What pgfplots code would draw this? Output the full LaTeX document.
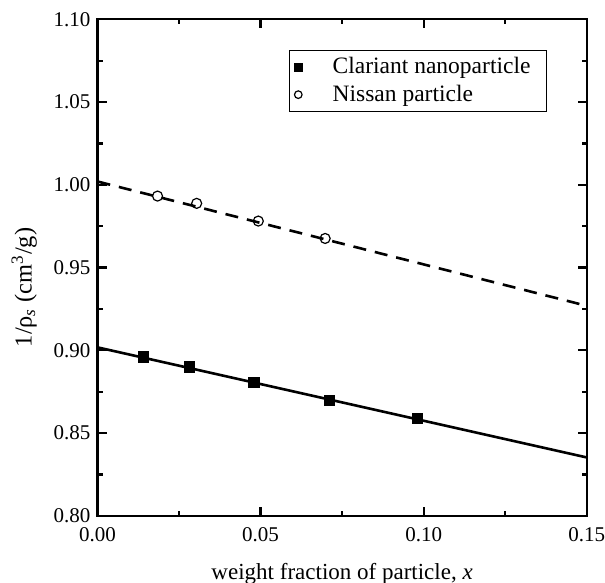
\documentclass[border=0pt]{standalone}
\usepackage{fontspec}
\setmainfont{Liberation Serif}
\usepackage{pgfplots}
\pgfplotsset{compat=1.18}

\begin{document}
\begin{tikzpicture}
\begin{axis}[
  scale only axis,
  width=244.5pt, height=248.2pt,
  xmin=0, xmax=0.15, ymin=0.80, ymax=1.10,
  xtick={0,0.05,0.10,0.15},
  ytick={0.80,0.85,0.90,0.95,1.00,1.05,1.10},
  minor x tick num=1, minor y tick num=1,
  tick pos=both, tick align=inside,
  major tick length=4.5pt, minor tick length=2.5pt,
  axis line style={line width=1.1pt},
  every tick/.style={line width=1.1pt, black},
  /pgf/number format/assume math mode=true,
  xticklabel style={font=\fontsize{10.5}{12.6}\selectfont, yshift=-2.5pt,
    /pgf/number format/.cd, fixed, fixed zerofill, precision=2},
  yticklabel style={font=\fontsize{10.5}{12.6}\selectfont,
    /pgf/number format/.cd, fixed, fixed zerofill, precision=2},
  scaled ticks=false,
  xlabel={weight fraction of particle, \textit{x}},
  ylabel={1/ρ\textsubscript{\textit{s}} (cm\textsuperscript{3}/g)},
  xlabel style={font=\fontsize{11.5}{13.8}\selectfont,
    at={(axis description cs:0.5,-0.1275)}, anchor=base},
  ylabel style={font=\fontsize{12.2}{14.6}\selectfont,
    at={(axis description cs:-0.15,0.46)}, anchor=center},
  legend style={at={(axis description cs:0.919,0.938)}, anchor=north east,
    draw=black, line width=0.6pt, font=\fontsize{11.75}{14.1}\selectfont,
    inner xsep=6pt, inner ysep=1.5pt, row sep=0pt},
  legend cell align=left,
  legend image code/.code={%
    \draw[#1, overlay, mark size=1.9pt] plot[only marks] coordinates {(0cm,0cm)};
    \path[draw=none] (1.5pt,0pt) rectangle (15.2pt,0pt);},
]
% measured points
\addplot[only marks, mark=square*, mark size=2.6pt, black]
  coordinates {(0.0141,0.8961) (0.0281,0.8899) (0.0480,0.8806) (0.0711,0.8697) (0.0981,0.8590)};
\addlegendentry{Clariant nanoparticle}
\addplot[only marks, mark=o, mark size=2.5pt, black, mark options={line width=0.6pt}]
  coordinates {(0.0184,0.9932) (0.0304,0.9888) (0.0493,0.9781) (0.0698,0.9676)};
\addlegendentry{Nissan particle}
% linear fits
\addplot[forget plot, black, line width=1.3pt]
  coordinates {(0,0.9018) (0.15,0.8353)};
\addplot[forget plot, black, line width=1.3pt, dash pattern=on 6.5pt off 4.5pt]
  coordinates {(0,1.0020) (0.15,0.9269)};
\end{axis}
\pgfresetboundingbox
\path[use as bounding box] ([shift={(-48.75pt,-33.15pt)}]current axis.south west)
  rectangle ([shift={(9.15pt,9.65pt)}]current axis.north east);
\end{tikzpicture}
\end{document}
